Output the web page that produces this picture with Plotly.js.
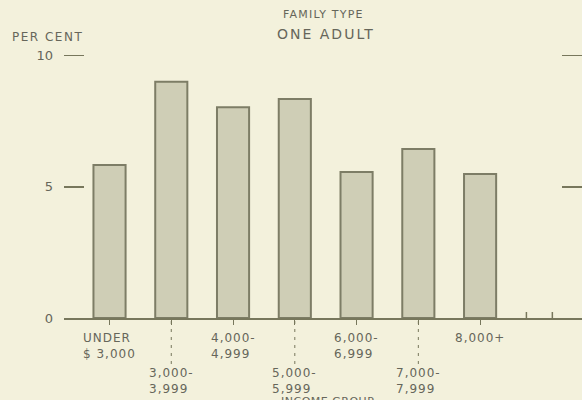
<!DOCTYPE html>
<html>
<head>
<meta charset="utf-8">
<script src="https://cdn.plot.ly/plotly-3.0.1.min.js"></script>
<style>
  html, body { margin: 0; padding: 0; background: #f3f1dc; }
  #chart { width: 582px; height: 400px; }
</style>
</head>
<body>
<div id="chart"></div>
<script>
// ---- data ----
var categories = ["UNDER $3,000", "3,000-3,999", "4,000-4,999", "5,000-5,999", "6,000-6,999", "7,000-7,999", "8,000+"];
var tickLines = [["UNDER", "$ 3,000"], ["3,000-", "3,999"], ["4,000-", "4,999"], ["5,000-", "5,999"], ["6,000-", "6,999"], ["7,000-", "7,999"], ["8,000+"]];
var perCent = [5.83, 9.0, 8.03, 8.34, 5.56, 6.44, 5.49];
var yTickVals = [0, 5, 10];
var yTickText = ["0", "5", "10"];
var titleTop = "FAMILY TYPE";
var titleMain = "ONE ADULT";
var yTitle = "PER CENT";
var xTitle = "INCOME GROUP";

// ---- styles ----
var BG = "#f3f1dc";
var INK = "#66665a";
var LINE = "#77775c";
var FONT = "DejaVu Sans, Verdana, sans-serif";
function sp(t, ls) { return '<span style="letter-spacing:' + ls + 'px">' + t + '</span>'; }

var xIdx = categories.map(function (c, i) { return i; });

var trace = {
  type: "bar",
  x: xIdx,
  y: perCent,
  width: 0.52,
  marker: { color: "#cfceb6", line: { color: "#7d7d66", width: 2 } },
  hoverinfo: "skip",
  text: categories,
  textposition: "none"
};

var annotations = [];
var shapes = [];
tickLines.forEach(function (lines, i) {
  var lower = (i % 2 === 1);
  annotations.push({
    xref: "x", yref: "paper", x: i, y: 0,
    xanchor: "center", yanchor: "top",
    yshift: lower ? -46 : -11,
    align: "left",
    showarrow: false,
    text: lines.map(function (l) { return sp(l, 1); }).join("<br>"),
    font: { family: FONT, size: 12, color: INK }
  });
  if (lower) {
    shapes.push({
      type: "line", xref: "x", yref: "paper",
      ysizemode: "pixel", yanchor: 0,
      x0: i, x1: i, y0: -3, y1: -46,
      line: { color: LINE, width: 1, dash: "3px,5px" }
    });
  }
});

// extra short ticks on the base line to the right
[6.75, 7.17].forEach(function (xv) {
  shapes.push({
    type: "line", xref: "x", yref: "paper",
    ysizemode: "pixel", yanchor: 0,
    x0: xv, x1: xv, y0: 0, y1: 6,
    line: { color: LINE, width: 1.5 }
  });
});

annotations.push({
  xref: "paper", yref: "paper", x: 0, y: 1, xanchor: "center", yanchor: "middle",
  xshift: -17, yshift: 8, showarrow: false,
  text: sp(yTitle, 1.5), font: { family: FONT, size: 12, color: INK }
});
annotations.push({
  xref: "x", yref: "paper", x: 3.53, y: 0, xanchor: "center", yanchor: "top",
  yshift: -75, showarrow: false,
  text: sp(xTitle, 0.5), font: { family: FONT, size: 11, color: INK }
});
annotations.push({
  xref: "x", yref: "paper", x: 3.47, y: 1, xanchor: "center", yanchor: "middle",
  yshift: 31, showarrow: false,
  text: sp(titleTop, 1.2), font: { family: FONT, size: 11, color: INK }
});
annotations.push({
  xref: "x", yref: "paper", x: 3.5, y: 1, xanchor: "center", yanchor: "middle",
  yshift: 11, showarrow: false,
  text: sp(titleMain, 2), font: { family: FONT, size: 14, color: INK }
});

var layout = {
  width: 582, height: 400,
  margin: { l: 64, r: 0, t: 45, b: 82, pad: 0 },
  paper_bgcolor: BG, plot_bgcolor: BG,
  showlegend: false,
  font: { family: FONT, color: INK },
  xaxis: {
    type: "linear",
    range: [-0.737, 7.65],
    showgrid: false, zeroline: false,
    showline: true, linecolor: LINE, linewidth: 2,
    tickvals: xIdx, ticktext: categories, showticklabels: false,
    ticks: "outside", ticklen: 5, tickwidth: 1, tickcolor: LINE,
    fixedrange: true
  },
  yaxis: {
    range: [0, 10.4],
    showgrid: false, zeroline: false, showline: false,
    tickvals: yTickVals, ticktext: yTickText,
    ticks: "inside", ticklen: 20, tickwidth: 1.5, tickcolor: LINE,
    mirror: "ticks",
    ticklabelstandoff: 10,
    tickfont: { family: FONT, size: 13, color: INK },
    fixedrange: true
  },
  annotations: annotations,
  shapes: shapes
};

Plotly.newPlot("chart", [trace], layout, { displayModeBar: false, staticPlot: true });
</script>
</body>
</html>
